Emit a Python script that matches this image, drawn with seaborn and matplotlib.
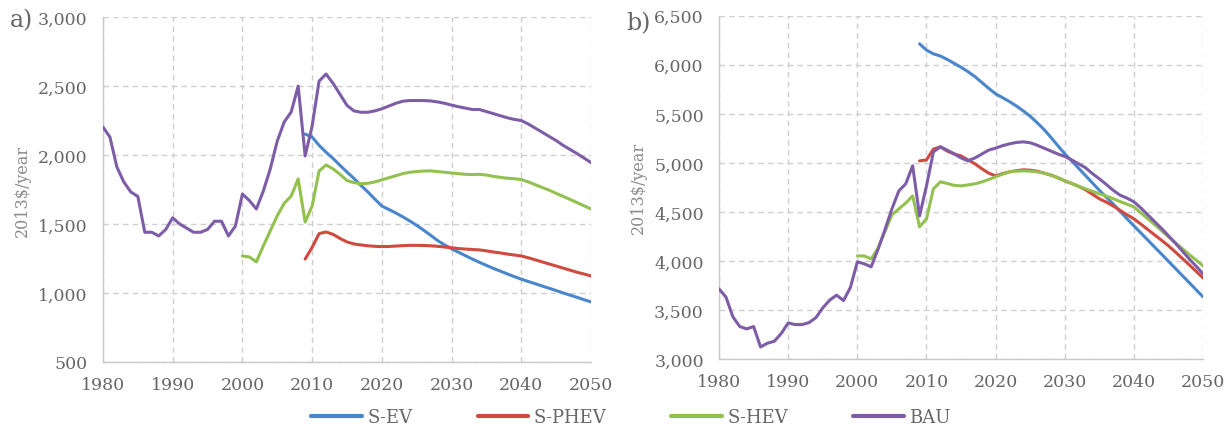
import numpy as np
import pandas as pd
import matplotlib
matplotlib.use("Agg")
import matplotlib.pyplot as plt
import seaborn as sns
from matplotlib.ticker import FuncFormatter, MultipleLocator

# ---- Annual cost of ownership (2013$/year) ----
SERIES = ["S-EV", "S-PHEV", "S-HEV", "BAU"]
COLORS = ["#4A86CC", "#CF4A3F", "#93C14F", "#7E5DA8"]

# Panel a)
A_BAU_START = 1980
A_BAU = [2203, 2130, 1913, 1804, 1732, 1700, 1440, 1440, 1413, 1460,
         1545, 1500, 1470, 1440, 1440, 1460, 1520, 1520, 1413, 1485,
         1717, 1670, 1609, 1739, 1900, 2101, 2240, 2312, 2500, 1993,
         2210, 2536, 2587, 2520, 2440, 2360, 2320, 2310, 2310, 2320,
         2335, 2355, 2375, 2390, 2395, 2395, 2395, 2392, 2385, 2375,
         2362, 2350, 2340, 2330, 2330, 2315, 2300, 2285, 2270, 2258,
         2250, 2225, 2195, 2165, 2135, 2105, 2070, 2040, 2010, 1978,
         1945]
A_EV_START = 2009
A_EV = [2152, 2130, 2070, 2020, 1975, 1925, 1877, 1830, 1780, 1732,
        1680, 1630, 1605, 1580, 1552, 1522, 1490, 1455, 1418, 1380,
        1348, 1320, 1295, 1270, 1245, 1222, 1200, 1178, 1158, 1138,
        1118, 1100, 1083, 1067, 1050, 1034, 1017, 1000, 984, 968,
        951, 935]
A_PHEV_START = 2009
A_PHEV = [1246, 1330, 1430, 1442, 1425, 1395, 1370, 1355, 1348, 1342,
          1338, 1336, 1337, 1340, 1343, 1345, 1345, 1344, 1342, 1338,
          1333, 1328, 1322, 1318, 1315, 1312, 1305, 1297, 1290, 1282,
          1275, 1268, 1255, 1240, 1225, 1210, 1195, 1180, 1165, 1150,
          1137, 1123]
A_HEV_START = 2000
A_HEV = [1268, 1261, 1225, 1341, 1450, 1560, 1650, 1703, 1826, 1514,
         1630, 1884, 1928, 1900, 1860, 1815, 1800, 1792, 1795, 1805,
         1820, 1835, 1850, 1865, 1875, 1880, 1884, 1885, 1880, 1875,
         1870, 1865, 1860, 1858, 1860, 1855, 1845, 1838, 1832, 1828,
         1822, 1805, 1785, 1765, 1745, 1722, 1700, 1678, 1655, 1632,
         1609]

# Panel b)
B_BAU_START = 1980
B_BAU = [3714, 3630, 3429, 3330, 3306, 3330, 3122, 3160, 3180, 3260,
         3367, 3350, 3350, 3370, 3420, 3520, 3600, 3650, 3595, 3730,
         3990, 3970, 3939, 4120, 4320, 4530, 4714, 4786, 4970, 4459,
         4765, 5112, 5163, 5130, 5092, 5050, 5020, 5050, 5090, 5130,
         5150, 5175, 5194, 5208, 5214, 5205, 5180, 5150, 5120, 5090,
         5065, 5030, 4990, 4950, 4890, 4837, 4780, 4720, 4670, 4640,
         4602, 4540, 4470, 4400, 4330, 4255, 4180, 4100, 4020, 3945,
         3867]
B_EV_START = 2009
B_EV = [6214, 6150, 6112, 6090, 6055, 6015, 5975, 5930, 5880, 5820,
        5760, 5704, 5665, 5625, 5580, 5530, 5475, 5410, 5340, 5260,
        5175, 5092, 5020, 4945, 4870, 4795, 4720, 4650, 4580, 4505,
        4430, 4357, 4285, 4213, 4140, 4068, 3995, 3923, 3850, 3778,
        3705, 3633]
B_PHEV_START = 2009
B_PHEV = [5020, 5030, 5140, 5163, 5120, 5090, 5071, 5030, 4990, 4940,
          4895, 4867, 4890, 4908, 4920, 4929, 4925, 4915, 4895, 4875,
          4848, 4816, 4790, 4760, 4725, 4680, 4633, 4600, 4560, 4515,
          4470, 4429, 4375, 4320, 4265, 4210, 4153, 4090, 4025, 3960,
          3893, 3826]
B_HEV_START = 2000
B_HEV = [4051, 4050, 4020, 4130, 4300, 4470, 4530, 4590, 4663, 4347,
         4429, 4735, 4806, 4790, 4770, 4765, 4775, 4786, 4805, 4830,
         4857, 4885, 4908, 4915, 4918, 4915, 4908, 4895, 4875, 4848,
         4816, 4790, 4760, 4735, 4710, 4684, 4660, 4635, 4605, 4578,
         4551, 4490, 4430, 4370, 4308, 4245, 4185, 4125, 4065, 4008,
         3949]

X_TICKS = [1980, 1990, 2000, 2010, 2020, 2030, 2040, 2050]
A_YLIM = (500, 3000)
B_YLIM = (3000, 6500)
Y_LABEL = "2013$/year"


def long_frame(parts):
    rows = []
    for name, start, vals in parts:
        for i, v in enumerate(vals):
            rows.append({"year": start + i, "cost": v, "series": name})
    return pd.DataFrame(rows)


df_a = long_frame([("S-EV", A_EV_START, A_EV), ("S-PHEV", A_PHEV_START, A_PHEV),
                   ("S-HEV", A_HEV_START, A_HEV), ("BAU", A_BAU_START, A_BAU)])
df_b = long_frame([("S-EV", B_EV_START, B_EV), ("S-PHEV", B_PHEV_START, B_PHEV),
                   ("S-HEV", B_HEV_START, B_HEV), ("BAU", B_BAU_START, B_BAU)])

sns.set_theme(style="white")
plt.rcParams["font.family"] = ["DejaVu Serif"]
TEXT = "#666666"
GRID = "#CFCFCF"

fig = plt.figure(figsize=(12.3, 4.31), dpi=100)
ax_a = fig.add_axes([0.0837, 0.158, 0.3968, 0.800])
ax_b = fig.add_axes([0.5846, 0.165, 0.3935, 0.796])
palette = dict(zip(SERIES, COLORS))

for ax, df, ylim in [(ax_a, df_a, A_YLIM), (ax_b, df_b, B_YLIM)]:
    sns.lineplot(data=df, x="year", y="cost", hue="series", hue_order=SERIES,
                 palette=palette, linewidth=2.2, legend=False, ax=ax, zorder=3)
    ax.set_xlim(1980, 2050)
    ax.set_ylim(*ylim)
    ax.set_xticks(X_TICKS)
    ax.yaxis.set_major_locator(MultipleLocator(500))
    ax.yaxis.set_major_formatter(FuncFormatter(lambda v, p: f"{int(v):,}"))
    ax.grid(True, color=GRID, linestyle=(0, (4, 3)), linewidth=1.0)
    ax.set_axisbelow(True)
    for s in ["top", "right"]:
        ax.spines[s].set_visible(False)
    for s in ["left", "bottom"]:
        ax.spines[s].set_color("#C8C8C8")
        ax.spines[s].set_linewidth(1.0)
    ax.tick_params(axis="both", labelsize=12.5, colors=TEXT, length=0)
    ax.tick_params(axis="y", pad=11)
    ax.tick_params(axis="x", pad=10)
    ax.set_xlabel("")
    ax.set_ylabel(Y_LABEL, fontsize=11.5, color="#8A8A8A", labelpad=5)

fig.text(0.008, 0.953, "a)", fontsize=17, color=TEXT, ha="left", va="center")
fig.text(0.509, 0.945, "b)", fontsize=17, color=TEXT, ha="left", va="center")

handles = [plt.Line2D([], [], color=c, linewidth=3) for c in COLORS]
fig.legend(handles, SERIES, loc="center", bbox_to_anchor=(0.513, 0.03), ncol=4,
           frameon=False, fontsize=13, labelcolor=TEXT, handlelength=2.8,
           handletextpad=0.3, columnspacing=3.6)

fig.savefig("out.png", dpi=100)
